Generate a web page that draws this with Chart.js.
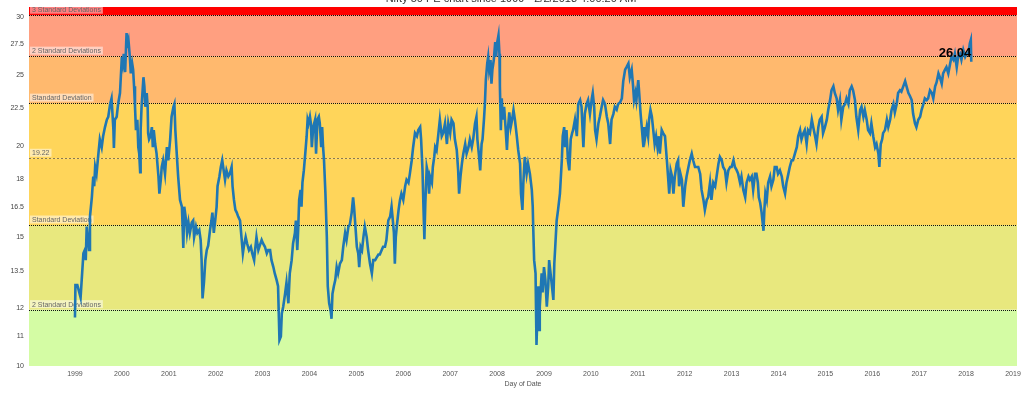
<!DOCTYPE html>
<html>
<head>
<meta charset="utf-8">
<script src="https://cdn.jsdelivr.net/npm/chart.js@4"></script>
<style>
  html, body { margin: 0; padding: 0; background: #fff; }
  #wrap { width: 1024px; height: 393px; position: relative; }
</style>
</head>
<body>
<div id="wrap"><canvas id="peChart"></canvas></div>
<script>
// Nifty 50 PE
let years = [
  1999.00, 1999.01, 1999.05, 1999.12, 1999.14, 1999.18, 1999.21, 1999.23, 1999.25, 1999.28,
  1999.30, 1999.32, 1999.36, 1999.39, 1999.41, 1999.43, 1999.46, 1999.50, 1999.53, 1999.57,
  1999.60, 1999.64, 1999.68, 1999.71, 1999.75, 1999.78, 1999.80, 1999.82, 1999.83, 1999.85,
  1999.89, 1999.92, 1999.96, 2000.00, 2000.02, 2000.04, 2000.07, 2000.10, 2000.12, 2000.14,
  2000.17, 2000.19, 2000.22, 2000.24, 2000.26, 2000.28, 2000.30, 2000.33, 2000.35, 2000.37,
  2000.39, 2000.40, 2000.42, 2000.46, 2000.48, 2000.50, 2000.53, 2000.55, 2000.56, 2000.58,
  2000.61, 2000.64, 2000.66, 2000.68, 2000.71, 2000.74, 2000.78, 2000.80, 2000.83, 2000.85,
  2000.88, 2000.92, 2000.96, 2000.99, 2001.03, 2001.06, 2001.10, 2001.12, 2001.14, 2001.17,
  2001.20, 2001.24, 2001.28, 2001.30, 2001.31, 2001.33, 2001.37, 2001.39, 2001.42, 2001.45,
  2001.49, 2001.52, 2001.54, 2001.58, 2001.61, 2001.65, 2001.68, 2001.70, 2001.72, 2001.75,
  2001.78, 2001.81, 2001.84, 2001.88, 2001.91, 2001.93, 2001.96, 2001.99, 2002.02, 2002.04,
  2002.08, 2002.11, 2002.14, 2002.16, 2002.20, 2002.23, 2002.27, 2002.30, 2002.34, 2002.36,
  2002.39, 2002.42, 2002.45, 2002.48, 2002.52, 2002.55, 2002.58, 2002.60, 2002.64, 2002.67,
  2002.71, 2002.75, 2002.78, 2002.82, 2002.84, 2002.87, 2002.91, 2002.94, 2002.98, 2003.01,
  2003.05, 2003.09, 2003.12, 2003.16, 2003.19, 2003.23, 2003.26, 2003.30, 2003.33, 2003.36,
  2003.39, 2003.41, 2003.44, 2003.48, 2003.51, 2003.55, 2003.58, 2003.62, 2003.65, 2003.69,
  2003.71, 2003.74, 2003.76, 2003.78, 2003.81, 2003.83, 2003.85, 2003.88, 2003.91, 2003.94,
  2003.96, 2003.98, 2004.01, 2004.03, 2004.05, 2004.08, 2004.12, 2004.14, 2004.17, 2004.20,
  2004.22, 2004.25, 2004.27, 2004.29, 2004.31, 2004.34, 2004.37, 2004.39, 2004.42, 2004.45,
  2004.47, 2004.49, 2004.52, 2004.55, 2004.58, 2004.61, 2004.65, 2004.69, 2004.72, 2004.76,
  2004.79, 2004.83, 2004.86, 2004.90, 2004.93, 2004.95, 2004.98, 2005.01, 2005.04, 2005.06,
  2005.09, 2005.12, 2005.15, 2005.18, 2005.22, 2005.25, 2005.29, 2005.33, 2005.36, 2005.40,
  2005.43, 2005.47, 2005.50, 2005.54, 2005.57, 2005.61, 2005.64, 2005.68, 2005.72, 2005.75,
  2005.77, 2005.80, 2005.82, 2005.84, 2005.87, 2005.90, 2005.93, 2005.96, 2006.00, 2006.04,
  2006.07, 2006.11, 2006.14, 2006.18, 2006.21, 2006.25, 2006.29, 2006.32, 2006.36, 2006.38,
  2006.41, 2006.43, 2006.45, 2006.47, 2006.50, 2006.53, 2006.55, 2006.57, 2006.61, 2006.63,
  2006.66, 2006.68, 2006.71, 2006.75, 2006.78, 2006.82, 2006.85, 2006.89, 2006.93, 2006.96,
  2007.00, 2007.03, 2007.07, 2007.10, 2007.14, 2007.17, 2007.19, 2007.22, 2007.25, 2007.28,
  2007.32, 2007.35, 2007.39, 2007.42, 2007.46, 2007.49, 2007.53, 2007.56, 2007.58, 2007.61,
  2007.64, 2007.67, 2007.69, 2007.72, 2007.74, 2007.76, 2007.79, 2007.81, 2007.83, 2007.86,
  2007.88, 2007.90, 2007.93, 2007.96, 2007.98, 2008.00, 2008.03, 2008.05, 2008.06, 2008.08,
  2008.10, 2008.12, 2008.15, 2008.18, 2008.21, 2008.23, 2008.26, 2008.29, 2008.32, 2008.35,
  2008.38, 2008.42, 2008.45, 2008.49, 2008.51, 2008.54, 2008.56, 2008.59, 2008.63, 2008.66,
  2008.70, 2008.74, 2008.76, 2008.77, 2008.79, 2008.82, 2008.84, 2008.86, 2008.88, 2008.90,
  2008.91, 2008.95, 2008.97, 2009.00, 2009.03, 2009.06, 2009.09, 2009.11, 2009.14, 2009.17,
  2009.20, 2009.22, 2009.24, 2009.27, 2009.30, 2009.34, 2009.38, 2009.40, 2009.43, 2009.45,
  2009.48, 2009.51, 2009.54, 2009.57, 2009.60, 2009.62, 2009.66, 2009.70, 2009.73, 2009.77,
  2009.80, 2009.84, 2009.87, 2009.91, 2009.94, 2009.98, 2010.02, 2010.04, 2010.07, 2010.09,
  2010.12, 2010.16, 2010.19, 2010.23, 2010.26, 2010.30, 2010.34, 2010.37, 2010.41, 2010.44,
  2010.48, 2010.51, 2010.55, 2010.58, 2010.62, 2010.66, 2010.69, 2010.73, 2010.76, 2010.80,
  2010.83, 2010.87, 2010.90, 2010.92, 2010.95, 2010.97, 2011.01, 2011.03, 2011.06, 2011.09,
  2011.12, 2011.14, 2011.16, 2011.19, 2011.22, 2011.24, 2011.27, 2011.30, 2011.33, 2011.36,
  2011.39, 2011.42, 2011.45, 2011.47, 2011.51, 2011.54, 2011.58, 2011.62, 2011.65, 2011.67,
  2011.70, 2011.73, 2011.76, 2011.79, 2011.83, 2011.86, 2011.88, 2011.91, 2011.94, 2011.97,
  2012.01, 2012.04, 2012.08, 2012.11, 2012.15, 2012.18, 2012.22, 2012.25, 2012.29, 2012.33,
  2012.36, 2012.40, 2012.43, 2012.47, 2012.50, 2012.54, 2012.57, 2012.61, 2012.65, 2012.68,
  2012.72, 2012.75, 2012.79, 2012.82, 2012.86, 2012.89, 2012.93, 2012.97, 2013.00, 2013.04,
  2013.07, 2013.11, 2013.14, 2013.18, 2013.21, 2013.25, 2013.29, 2013.32, 2013.36, 2013.39,
  2013.43, 2013.46, 2013.50, 2013.53, 2013.56, 2013.58, 2013.61, 2013.64, 2013.68, 2013.70,
  2013.72, 2013.75, 2013.78, 2013.82, 2013.85, 2013.89, 2013.92, 2013.96, 2013.99, 2014.03,
  2014.07, 2014.10, 2014.14, 2014.17, 2014.21, 2014.24, 2014.28, 2014.31, 2014.35, 2014.39,
  2014.42, 2014.46, 2014.49, 2014.53, 2014.56, 2014.60, 2014.63, 2014.67, 2014.71, 2014.74,
  2014.78, 2014.81, 2014.85, 2014.88, 2014.92, 2014.95, 2014.99, 2015.03, 2015.06, 2015.10,
  2015.13, 2015.17, 2015.20, 2015.24, 2015.27, 2015.31, 2015.34, 2015.38, 2015.42, 2015.45,
  2015.49, 2015.52, 2015.56, 2015.59, 2015.63, 2015.66, 2015.70, 2015.74, 2015.77, 2015.81,
  2015.84, 2015.88, 2015.91, 2015.95, 2015.98, 2016.02, 2016.06, 2016.09, 2016.13, 2016.15,
  2016.18, 2016.21, 2016.23, 2016.27, 2016.31, 2016.34, 2016.38, 2016.41, 2016.45, 2016.48,
  2016.52, 2016.55, 2016.59, 2016.62, 2016.66, 2016.70, 2016.73, 2016.77, 2016.80, 2016.84,
  2016.87, 2016.91, 2016.94, 2016.98, 2017.02, 2017.05, 2017.09, 2017.12, 2017.16, 2017.19,
  2017.23, 2017.27, 2017.30, 2017.34, 2017.37, 2017.41, 2017.44, 2017.48, 2017.51, 2017.55,
  2017.58, 2017.62, 2017.66, 2017.69, 2017.73, 2017.76, 2017.80, 2017.83, 2017.87, 2017.90,
  2017.94, 2017.98, 2018.01, 2018.05, 2018.08, 2018.10, 2018.11
];

let pe = [
  11.65, 12.9, 12.9, 12.4, 13.0, 14.25, 14.4, 13.95, 15.5, 14.86,
  14.4, 16.0, 17.0, 18.15, 17.6, 18.7, 18.3, 19.5, 20.4, 19.9,
  20.6, 21.2, 21.7, 21.9, 22.8, 23.2, 22.1, 21.0, 19.85, 21.7,
  21.9, 22.8, 23.6, 26.45, 25.9, 26.7, 25.2, 28.5, 27.6, 27.9,
  26.45, 25.1, 25.9, 25.4, 24.1, 22.6, 21.0, 21.7, 19.9, 19.5,
  18.4, 21.0, 22.6, 24.8, 24.1, 22.6, 23.6, 22.6, 20.8, 20.4,
  20.6, 21.2, 19.9, 21.0, 20.1, 19.5, 18.15, 17.2, 17.96, 18.7,
  19.1, 18.3, 19.9, 19.1, 20.4, 21.9, 22.6, 22.8, 21.0, 19.5,
  18.15, 16.86, 16.5, 15.2, 14.5, 16.5, 15.8, 15.2, 15.7, 15.2,
  15.7, 15.8, 15.0, 15.5, 15.2, 15.34, 14.86, 13.95, 12.37, 13.0,
  13.95, 14.4, 14.6, 15.34, 15.8, 16.2, 15.2, 15.8, 16.5, 17.6,
  18.15, 18.7, 19.1, 18.7, 17.96, 18.5, 18.15, 18.3, 18.7, 17.6,
  16.86, 16.34, 16.2, 16.0, 15.8, 15.0, 14.25, 14.55, 15.0, 14.7,
  14.4, 14.55, 14.25, 13.95, 14.4, 15.0, 14.4, 14.6, 14.86, 14.7,
  14.55, 14.25, 14.4, 14.4, 13.95, 13.65, 13.38, 13.1, 12.85, 10.85,
  10.97, 11.8, 12.05, 12.55, 13.0, 12.18, 13.38, 13.95, 14.7, 15.2,
  15.8, 14.4, 15.4, 16.86, 17.4, 16.5, 17.8, 18.5, 19.5, 20.6,
  21.7, 21.45, 21.9, 21.45, 19.9, 21.2, 21.7, 19.5, 21.7, 21.9,
  21.45, 19.9, 21.2, 19.9, 19.1, 17.2, 15.0, 12.85, 12.18, 11.93,
  11.6, 12.55, 12.85, 13.1, 13.65, 13.38, 13.8, 13.95, 14.55, 15.2,
  14.86, 15.5, 15.6, 16.2, 17.0, 16.5, 15.5, 14.55, 14.25, 13.65,
  14.55, 14.4, 15.0, 15.5, 15.0, 14.4, 13.8, 13.38, 13.95, 13.95,
  14.06, 14.2, 14.2, 14.4, 14.55, 14.55, 14.86, 15.8, 16.0, 16.5,
  16.0, 15.2, 13.8, 15.0, 15.7, 16.34, 16.86, 17.2, 16.86, 17.6,
  17.96, 17.8, 18.3, 19.1, 19.9, 20.8, 20.6, 21.0, 21.2, 20.4,
  18.5, 16.5, 14.9, 16.7, 18.7, 18.3, 17.2, 18.15, 17.8, 18.7,
  19.3, 19.9, 19.7, 20.8, 21.7, 20.6, 20.8, 21.45, 20.1, 21.45,
  20.8, 21.7, 21.45, 20.4, 19.73, 18.5, 17.2, 18.15, 18.9, 19.5,
  20.1, 19.5, 19.9, 20.4, 19.9, 20.4, 21.45, 21.9, 20.4, 19.5,
  18.5, 20.1, 20.4, 21.7, 22.8, 24.58, 25.9, 26.45, 25.4, 26.18,
  24.3, 25.4, 26.18, 27.7, 26.45, 27.6, 28.3, 26.7, 24.1, 21.0,
  23.2, 21.7, 22.6, 21.2, 19.73, 21.0, 22.2, 21.2, 21.7, 22.37,
  21.7, 20.6, 19.73, 18.9, 17.2, 16.34, 17.8, 19.3, 18.3, 18.9,
  18.3, 17.4, 16.5, 15.5, 13.95, 13.38, 10.68, 11.8, 12.85, 11.2,
  12.05, 13.38, 12.6, 13.65, 13.1, 12.05, 12.85, 13.95, 13.38, 12.85,
  12.31, 13.8, 14.55, 15.8, 16.34, 17.2, 19.1, 20.6, 21.2, 19.9,
  21.0, 19.1, 18.5, 20.4, 20.8, 21.0, 21.7, 20.6, 22.8, 23.08,
  22.6, 19.9, 22.1, 22.8, 23.08, 22.1, 23.2, 23.6, 22.6, 21.0,
  20.4, 21.45, 21.9, 22.6, 23.08, 22.8, 21.9, 21.45, 20.1, 21.7,
  22.1, 22.6, 22.4, 22.8, 22.9, 23.2, 24.5, 25.4, 25.6, 25.9,
  24.8, 25.4, 24.1, 23.08, 23.6, 23.08, 24.58, 23.6, 22.1, 21.0,
  19.9, 21.2, 20.6, 21.2, 20.6, 21.7, 22.37, 21.9, 21.0, 20.1,
  20.6, 19.9, 20.6, 19.5, 21.0, 20.8, 20.6, 19.1, 17.96, 17.2,
  18.5, 18.15, 17.2, 18.15, 18.9, 19.1, 17.6, 18.3, 17.96, 16.5,
  17.6, 18.15, 18.7, 19.1, 19.5, 19.1, 18.7, 18.7, 18.7, 18.3,
  17.4, 16.86, 16.34, 16.86, 17.0, 17.8, 16.86, 17.8, 17.6, 18.15,
  18.9, 19.3, 19.1, 18.7, 18.5, 17.8, 18.5, 18.7, 18.7, 19.1,
  18.7, 18.5, 18.3, 17.8, 18.15, 17.4, 17.0, 17.8, 18.15, 17.96,
  18.15, 17.4, 18.3, 18.3, 17.8, 17.0, 16.7, 16.2, 15.3, 16.4,
  17.2, 16.86, 17.8, 18.15, 17.6, 17.96, 18.7, 18.7, 18.3, 18.5,
  18.15, 17.6, 17.2, 17.8, 18.3, 18.7, 19.1, 19.1, 19.5, 19.9,
  20.6, 21.0, 20.4, 20.8, 21.0, 20.1, 21.0, 20.8, 21.7, 21.2,
  20.6, 20.1, 21.2, 21.7, 21.9, 20.8, 21.2, 21.7, 22.37, 23.08,
  23.8, 24.1, 23.6, 23.2, 22.37, 23.08, 21.7, 22.6, 22.8, 23.2,
  22.8, 23.8, 24.1, 23.8, 23.08, 21.9, 21.0, 22.37, 22.6, 21.9,
  22.37, 21.7, 21.0, 20.8, 21.45, 20.6, 19.9, 20.1, 19.5, 18.7,
  20.1, 20.4, 20.8, 21.0, 21.7, 21.2, 21.7, 22.37, 22.8, 22.2,
  22.8, 23.6, 23.8, 23.7, 24.1, 24.5, 24.1, 23.6, 23.4, 23.08,
  22.1, 21.45, 21.2, 21.7, 21.9, 22.37, 22.8, 23.2, 23.08, 23.2,
  23.8, 23.6, 23.2, 24.1, 24.4, 25.1, 24.8, 24.3, 25.1, 25.4,
  25.6, 25.1, 25.9, 26.45, 26.2, 26.7, 25.6, 26.45, 26.7, 26.2,
  27.02, 26.45, 26.7, 26.7, 27.6, 27.88, 26.04
];

// axis ticks
let yearTicks = [1999, 2000, 2001, 2002, 2003, 2004, 2005, 2006, 2007, 2008, 2009,
                 2010, 2011, 2012, 2013, 2014, 2015, 2016, 2017, 2018, 2019];
let peTicks = [10, 11, 12, 13.5, 15, 16.5, 18, 20, 22.5, 25, 27.5, 30];

// mean and standard deviation reference lines (bottom to top)
let bandLines = [11.94, 15.58, 19.22, 22.86, 26.50, 30.14];
let bandLabels = ['2 Standard Deviations', 'Standard Deviation', '19.22',
                  'Standard Deviation', '2 Standard Deviations', '3 Standard Deviations'];
let bandColors = ['#d4fca4', '#e8e87e', '#ffd55a', '#ffd55a', '#ffb96e', '#ff9f80', '#ff0000'];

let font = 'Liberation Sans, Arial, sans-serif';

let bands = {
  id: 'bands',
  beforeDatasetsDraw(chart) {
    let c = chart.ctx, a = chart.chartArea, y = chart.scales.y;
    let edges = [y.min].concat(bandLines, [y.max]);
    c.save();
    c.beginPath();
    c.rect(a.left, a.top, a.right - a.left, a.bottom - a.top);
    c.clip();
    for (let i = 0; i < bandColors.length; i++) {
      let y0 = y.getPixelForValue(edges[i]);
      let y1 = y.getPixelForValue(edges[i + 1]);
      c.fillStyle = bandColors[i];
      c.fillRect(a.left, y1, a.right - a.left, y0 - y1);
    }
    bandLines.forEach((v, i) => {
      let py = Math.round(y.getPixelForValue(v)) + 0.5;
      c.beginPath();
      c.setLineDash(i == 2 ? [2, 2] : [1, 1]);
      c.strokeStyle = i == 2 ? '#8a7a50' : '#111';
      c.lineWidth = 1;
      c.moveTo(a.left, py);
      c.lineTo(a.right, py);
      c.stroke();
    });
    c.setLineDash([]);
    c.font = '7px ' + font;
    c.textBaseline = 'bottom';
    c.textAlign = 'left';
    bandLines.forEach((v, i) => {
      let py = y.getPixelForValue(v);
      let w = c.measureText(bandLabels[i]).width;
      c.fillStyle = 'rgba(255,255,255,0.5)';
      c.fillRect(a.left + 1, py - 9.5, w + 4, 8);
      c.fillStyle = '#666';
      c.fillText(bandLabels[i], a.left + 3, py - 1.5);
    });
    c.restore();
  },
  afterDatasetsDraw(chart) {
    let c = chart.ctx;
    let pts = chart.getDatasetMeta(0).data;
    let last = pts[pts.length - 1];
    c.save();
    c.font = 'bold 13px ' + font;
    c.fillStyle = '#000';
    c.textAlign = 'right';
    c.textBaseline = 'alphabetic';
    c.fillText(pe[pe.length - 1].toFixed(2), last.x, last.y - 5);
    // title sits mostly above the top edge of the picture
    c.font = '11px ' + font;
    c.fillStyle = '#333';
    c.textAlign = 'center';
    c.fillText('Nifty 50 PE chart since 1999 - 2/2/2018 4:00:20 AM', 511, 2);
    c.restore();
  }
};

let ctx = document.getElementById('peChart').getContext('2d');

let peChart = new Chart(ctx, {
  type: 'line',
  data: {
    datasets: [{
      label: 'PE',
      data: years.map((x, i) => ({ x: x, y: pe[i] })),
      borderColor: '#1f77b4',
      borderWidth: 2.6,
      pointRadius: 0,
      tension: 0,
      fill: false
    }]
  },
  options: {
    responsive: true,
    maintainAspectRatio: false,
    animation: false,
    layout: { padding: { top: 7, right: 7, left: 0, bottom: 0 } },
    plugins: {
      legend: { display: false },
      tooltip: { enabled: false },
      title: { display: false }
    },
    scales: {
      x: {
        type: 'linear',
        min: 1998.02,
        max: 2019.085,
        grid: { display: false, drawTicks: false },
        border: { display: false },
        afterBuildTicks: s => { s.ticks = yearTicks.map(v => ({ value: v })); },
        afterFit: s => { s.height = 27; s.paddingLeft = 0; s.paddingRight = 0; },
        ticks: {
          autoSkip: false,
          maxRotation: 0,
          padding: 4,
          color: '#555',
          font: { size: 7, family: font },
          callback: v => String(v)
        },
        title: {
          display: true,
          text: 'Day of Date',
          color: '#555',
          font: { size: 7, family: font },
          padding: { top: 0, bottom: 5 }
        }
      },
      y: {
        type: 'logarithmic',
        min: 10,
        max: 30.93,
        grid: { display: false, drawTicks: false },
        border: { display: false },
        afterBuildTicks: s => { s.ticks = peTicks.map(v => ({ value: v })); },
        afterFit: s => { s.width = 29; s.paddingTop = 0; s.paddingBottom = 0; },
        ticks: {
          padding: 5,
          color: '#444',
          font: { size: 7, family: font },
          callback: v => String(v)
        }
      }
    }
  },
  plugins: [bands]
});
</script>
</body>
</html>
